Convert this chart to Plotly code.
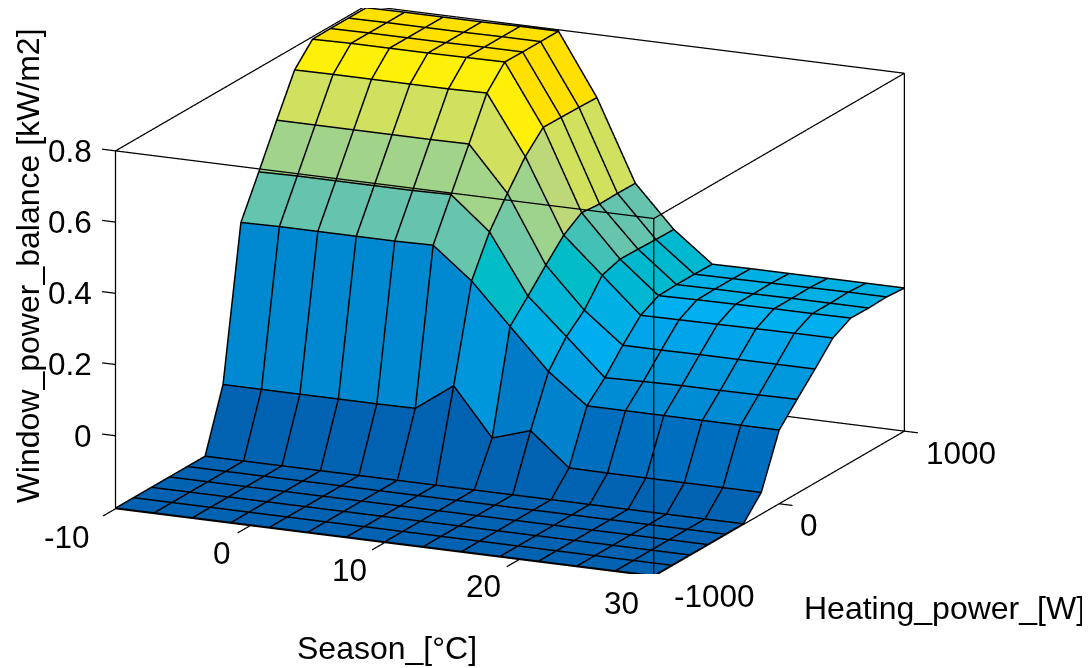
import plotly.graph_objects as go

season = [-10 + 40 * n / 14 for n in range(15)]
heating = [-1000 + 2000 * n / 14 for n in range(15)]
x_ticks = [-10, 0, 10, 20, 30]
y_ticks = [-1000, 0, 1000]
z_ticks = [0, 0.2, 0.4, 0.6, 0.8]
z_tick_labels = ["0", "0.2", "0.4", "0.6", "0.8"]
x_title = "Season_[°C]"
y_title = "Heating_power_[W]"
z_title = "Window_power_balance [kW/m2]"

# rows: heating power, columns: season
balance = [
    [-0.205] * 15,
    [-0.205] * 15,
    [-0.205] * 15,
    [-0.205] * 15,
    [-0.205] * 15,
    [-0.205] * 15,
    [-0.033, -0.033, -0.033, -0.033, -0.033, -0.032, 0.045, -0.088, -0.054, -0.145, -0.146, -0.146, -0.146, -0.146, -0.146],
    [0.393, 0.395, 0.395, 0.395, 0.395, 0.397, 0.31, 0.196, 0.083, 0.0, 0.0, 0.0, 0.0, 0.0, 0.0],
    [0.506, 0.508, 0.508, 0.508, 0.508, 0.51, 0.419, 0.252, 0.152, 0.05, 0.053, 0.055, 0.055, 0.056, 0.057],
    [0.622, 0.622, 0.622, 0.622, 0.622, 0.623, 0.498, 0.31, 0.197, 0.112, 0.112, 0.113, 0.113, 0.113, 0.113],
    [0.734, 0.735, 0.735, 0.735, 0.735, 0.737, 0.572, 0.365, 0.266, 0.167, 0.168, 0.169, 0.17, 0.171, 0.171],
    [0.791, 0.793, 0.793, 0.793, 0.794, 0.795, 0.625, 0.399, 0.282, 0.193, 0.195, 0.196, 0.197, 0.197, 0.198],
    [0.792, 0.793, 0.793, 0.793, 0.794, 0.794, 0.624, 0.394, 0.281, 0.195, 0.196, 0.196, 0.197, 0.197, 0.197],
    [0.792, 0.793, 0.793, 0.793, 0.794, 0.794, 0.623, 0.395, 0.279, 0.195, 0.196, 0.197, 0.198, 0.199, 0.199],
    [0.792, 0.793, 0.793, 0.793, 0.794, 0.794, 0.621, 0.394, 0.278, 0.194, 0.195, 0.195, 0.195, 0.195, 0.195],
]

color_levels = [-0.205, -0.145, -0.033, 0.0, 0.055, 0.112, 0.168, 0.195, 0.31, 0.395, 0.5, 0.572, 0.622, 0.735, 0.795]
color_values = ["#0062b0", "#006ebe", "#0088d0", "#008cd4", "#0098dc", "#00a4e8", "#00b0f0", "#00b0e4",
                "#00bcc8", "#66c4ae", "#9ed48c", "#bcd87a", "#d0e060", "#fff00a", "#ffe000"]

XMIN, XMAX = -10, 30
YMIN, YMAX = -1000, 1000
ZMIN, ZMAX = -0.205, 0.8
XPAD, YPAD, ZPAD = 1.5, 150, 0.015

n_y, n_x = len(heating), len(season)
vx, vy, vz, ti, tj, tk, cell = [], [], [], [], [], [], []
for r in range(n_y):
    for c in range(n_x):
        vx.append(season[c]); vy.append(heating[r]); vz.append(balance[r][c])
for r in range(n_y - 1):
    for c in range(n_x - 1):
        a = r * n_x + c
        b, d, e = a + 1, a + n_x, a + n_x + 1
        ti += [a, a]; tj += [b, e]; tk += [e, d]
        cell += [balance[r][c], balance[r][c]]

cs = [[(l - color_levels[0]) / (color_levels[-1] - color_levels[0]), col]
      for l, col in zip(color_levels, color_values)]

surface = go.Mesh3d(x=vx, y=vy, z=vz, i=ti, j=tj, k=tk, intensity=cell, intensitymode="cell",
                    colorscale=cs, cmin=color_levels[0], cmax=color_levels[-1], showscale=False,
                    flatshading=True, hoverinfo="skip",
                    lighting=dict(ambient=1, diffuse=0, specular=0, roughness=1, fresnel=0))

# mesh lines nudged a hair toward the viewer so the surface does not cut them in half
NX, NY, NZ = 0.04, -4.0, 0.003
gx, gy, gz = [], [], []
for r in range(n_y):
    for c in range(n_x):
        gx.append(season[c] + NX); gy.append(heating[r] + NY); gz.append(balance[r][c] + NZ)
    gx.append(None); gy.append(None); gz.append(None)
for c in range(n_x):
    for r in range(n_y):
        gx.append(season[c] + NX); gy.append(heating[r] + NY); gz.append(balance[r][c] + NZ)
    gx.append(None); gy.append(None); gz.append(None)
grid = go.Scatter3d(x=gx, y=gy, z=gz, mode="lines", line=dict(color="black", width=3),
                    hoverinfo="skip", showlegend=False)

# bounding box edges
bx, by, bz = [], [], []
def seg(p, q):
    bx.extend([p[0], q[0], None]); by.extend([p[1], q[1], None]); bz.extend([p[2], q[2], None])
for z in (ZMIN, ZMAX):
    seg((XMIN, YMIN, z), (XMAX, YMIN, z)); seg((XMAX, YMIN, z), (XMAX, YMAX, z))
    seg((XMAX, YMAX, z), (XMIN, YMAX, z)); seg((XMIN, YMAX, z), (XMIN, YMIN, z))
for x, y in ((XMIN, YMIN), (XMAX, YMIN), (XMAX, YMAX), (XMIN, YMAX)):
    seg((x, y, ZMIN), (x, y, ZMAX))
# tick marks
for t in x_ticks:
    seg((t, YMIN, ZMIN), (t, YMIN - 100, ZMIN))
for t in y_ticks:
    seg((XMAX, t, ZMIN), (XMAX + 1.0, t, ZMIN))
for t in z_ticks:
    seg((XMIN, YMIN, t), (XMIN - 1.0, YMIN, t))
box = go.Scatter3d(x=bx, y=by, z=bz, mode="lines", line=dict(color="black", width=2.5),
                   hoverinfo="skip", showlegend=False)

TICK_FONT = dict(family="Liberation Sans", size=31.5, color="black")
TITLE_FONT = dict(family="Liberation Sans", size=32, color="black")
def note(text, x, y, z, dx, dy, xanchor="center", angle=0, font=TICK_FONT):
    return dict(x=x, y=y, z=z, text=text, showarrow=False, xanchor=xanchor, yanchor="middle",
                xshift=dx, yshift=-dy, font=font, textangle=angle)

x_offsets = [(-49, 28), (-28, 28), (-35, 28), (-36, 27), (-32, 27)]
y_offsets = [(61, 20), (30, 21), (57, 22)]
notes = []
for t, (dx, dy) in zip(x_ticks, x_offsets):
    notes.append(note(str(t), t, YMIN, ZMIN, dx, dy))
for t, (dx, dy) in zip(y_ticks, y_offsets):
    notes.append(note(str(t), XMAX, t, ZMIN, dx, dy))
for t, lab in zip(z_ticks, z_tick_labels):
    notes.append(note(lab, XMIN, YMIN, t, -22, 0, xanchor="right"))
notes.append(note(x_title, 10, YMIN, ZMIN, 2, 106, font=TITLE_FONT))
notes.append(note(y_title, XMAX, 0, ZMIN, 165, 104, font=TITLE_FONT))
notes.append(note(z_title, XMIN, YMIN, 0.3, -88, -63, angle=-90, font=TITLE_FONT))

hidden = dict(visible=False, showgrid=False, zeroline=False, showspikes=False)
SCALE = 2.098
ax = SCALE * (XMAX - XMIN + 2 * XPAD) / 40
ay = SCALE * (YMAX - YMIN + 2 * YPAD) / 2000
az = SCALE * (ZMAX - ZMIN + 2 * ZPAD) / 1.005 * 0.626
fig = go.Figure([surface, grid, box])
fig.update_layout(
    width=1090, height=668, margin=dict(l=0, r=0, t=0, b=0), paper_bgcolor="white", showlegend=False,
    scene=dict(
        domain=dict(x=[0, 0.921], y=[0.153, 1]),
        xaxis=dict(range=[XMIN - XPAD, XMAX + XPAD], **hidden),
        yaxis=dict(range=[YMIN - YPAD, YMAX + YPAD], **hidden),
        zaxis=dict(range=[ZMIN - ZPAD, ZMAX + ZPAD], **hidden),
        aspectmode="manual", aspectratio=dict(x=ax, y=ay, z=az),
        camera=dict(projection=dict(type="orthographic"), up=dict(x=0, y=0, z=1),
                    center=dict(x=0, y=0, z=0), eye=dict(x=1.22, y=-2.62, z=0.81)),
        annotations=notes,
    ),
)
fig.write_html("out.html")
